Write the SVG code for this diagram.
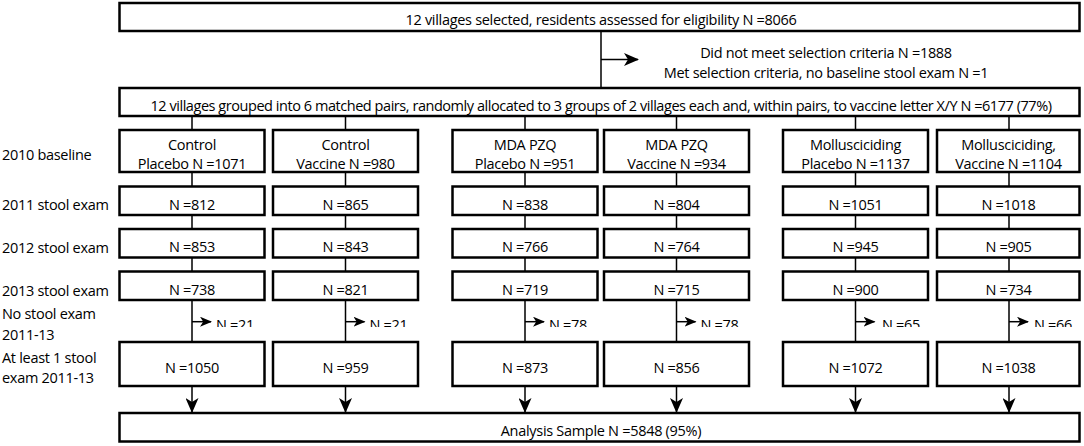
<svg xmlns="http://www.w3.org/2000/svg" width="1084" height="446" viewBox="0 0 1084 446">
<style>
text{font-family:"Open Sans","DejaVu Sans",sans-serif;font-size:14.5px;letter-spacing:-0.3px;fill:#000}
.c{text-anchor:middle}
.box{fill:#fff;stroke:#000;stroke-width:2.5}
.ln{fill:none;stroke:#000;stroke-width:1.5}
</style>
<defs>
<marker id="ah" markerUnits="userSpaceOnUse" viewBox="0 0 15 13" markerWidth="15" markerHeight="13" refX="14" refY="6.5" orient="auto">
<path d="M0,0 L15,6.5 L0,13 L4,6.5 Z" fill="#000"/>
</marker>
<marker id="as" markerUnits="userSpaceOnUse" viewBox="0 0 12 10" markerWidth="12" markerHeight="10" refX="11" refY="5" orient="auto">
<path d="M0,0 L12,5 L0,10 L3.2,5 Z" fill="#000"/>
</marker>
<clipPath id="clipN"><rect x="0" y="300" width="1084" height="27"/></clipPath>
</defs>

<g id="row-labels">
<text x="2" y="160">2010 baseline</text>
<text x="2" y="210">2011 stool exam</text>
<text x="2" y="252.5">2012 stool exam</text>
<text x="2" y="296">2013 stool exam</text>
<text x="2" y="319">No stool exam</text>
<text x="2" y="340">2011-13</text>
<text x="2" y="363">At least 1 stool</text>
<text x="2" y="383">exam 2011-13</text>
</g>

<g id="connectors">
<line class="ln" x1="601" y1="31" x2="601" y2="88"/>
<line class="ln" x1="601" y1="59.5" x2="638" y2="59.5" marker-end="url(#ah)"/>
<path class="ln" d="M192,116V130M192,172V186.5M192,215V229M192,257.5V271.5M345.5,116V130M345.5,172V186.5M345.5,215V229M345.5,257.5V271.5M525,116V130M525,172V186.5M525,215V229M525,257.5V271.5M676.5,116V130M676.5,172V186.5M676.5,215V229M676.5,257.5V271.5M855.5,116V130M855.5,172V186.5M855.5,215V229M855.5,257.5V271.5M1009,116V130M1009,172V186.5M1009,215V229M1009,257.5V271.5"/>
<path class="ln" d="M192,300V342M345.5,300V342M525,300V342M676.5,300V342M855.5,300V342M1009,300V342"/>
<line class="ln" x1="192" y1="321.7" x2="211" y2="321.7" marker-end="url(#as)"/>
<line class="ln" x1="345.5" y1="321.7" x2="364.5" y2="321.7" marker-end="url(#as)"/>
<line class="ln" x1="525" y1="321.7" x2="544" y2="321.7" marker-end="url(#as)"/>
<line class="ln" x1="676.5" y1="321.7" x2="695.5" y2="321.7" marker-end="url(#as)"/>
<line class="ln" x1="855.5" y1="321.7" x2="874.5" y2="321.7" marker-end="url(#as)"/>
<line class="ln" x1="1009" y1="321.7" x2="1028" y2="321.7" marker-end="url(#as)"/>
<line class="ln" x1="192" y1="386" x2="192" y2="412" marker-end="url(#ah)"/>
<line class="ln" x1="345.5" y1="386" x2="345.5" y2="412" marker-end="url(#ah)"/>
<line class="ln" x1="525" y1="386" x2="525" y2="412" marker-end="url(#ah)"/>
<line class="ln" x1="676.5" y1="386" x2="676.5" y2="412" marker-end="url(#ah)"/>
<line class="ln" x1="855.5" y1="386" x2="855.5" y2="412" marker-end="url(#ah)"/>
<line class="ln" x1="1009" y1="386" x2="1009" y2="412" marker-end="url(#ah)"/>
<g clip-path="url(#clipN)">
<text x="216" y="329.5">N =21</text>
<text x="369.5" y="329.5">N =21</text>
<text x="549" y="329.5">N =78</text>
<text x="700.5" y="329.5">N =78</text>
<text x="882" y="329.5">N =65</text>
<text x="1034" y="329.5">N =66</text>
</g>
</g>

<g id="n-assessed">
<rect class="box" x="119.5" y="3" width="960" height="28"/>
<text class="c" x="601" y="25">12 villages selected, residents assessed for eligibility N =8066</text>
</g>
<g id="n-excluded">
<text class="c" x="826" y="58">Did not meet selection criteria N =1888</text>
<text class="c" x="826" y="77.5">Met selection criteria, no baseline stool exam N =1</text>
</g>
<g id="n-allocated">
<rect class="box" x="119.5" y="88" width="960" height="28"/>
<text class="c" x="601" y="110.5" style="letter-spacing:-0.45px">12 villages grouped into 6 matched pairs, randomly allocated to 3 groups of 2 villages each and, within pairs, to vaccine letter X/Y N =6177 (77%)</text>
</g>

<g id="col1">
<rect class="box" x="119.5" y="130" width="145" height="42"/>
<text class="c" x="192" y="150">Control</text>
<text class="c" x="192" y="169">Placebo N =1071</text>
<rect class="box" x="119.5" y="186.5" width="145" height="28.5"/>
<text class="c" x="192" y="209.5">N =812</text>
<rect class="box" x="119.5" y="229" width="145" height="28.5"/>
<text class="c" x="192" y="252">N =853</text>
<rect class="box" x="119.5" y="271.5" width="145" height="28.5"/>
<text class="c" x="192" y="295">N =738</text>
<rect class="box" x="119.5" y="342" width="145" height="44"/>
<text class="c" x="192" y="373">N =1050</text>
</g>
<g id="col2">
<rect class="box" x="273" y="130" width="145" height="42"/>
<text class="c" x="345.5" y="150">Control</text>
<text class="c" x="345.5" y="169">Vaccine N =980</text>
<rect class="box" x="273" y="186.5" width="145" height="28.5"/>
<text class="c" x="345.5" y="209.5">N =865</text>
<rect class="box" x="273" y="229" width="145" height="28.5"/>
<text class="c" x="345.5" y="252">N =843</text>
<rect class="box" x="273" y="271.5" width="145" height="28.5"/>
<text class="c" x="345.5" y="295">N =821</text>
<rect class="box" x="273" y="342" width="145" height="44"/>
<text class="c" x="345.5" y="373">N =959</text>
</g>
<g id="col3">
<rect class="box" x="452.5" y="130" width="145" height="42"/>
<text class="c" x="525" y="150">MDA PZQ</text>
<text class="c" x="525" y="169">Placebo N =951</text>
<rect class="box" x="452.5" y="186.5" width="145" height="28.5"/>
<text class="c" x="525" y="209.5">N =838</text>
<rect class="box" x="452.5" y="229" width="145" height="28.5"/>
<text class="c" x="525" y="252">N =766</text>
<rect class="box" x="452.5" y="271.5" width="145" height="28.5"/>
<text class="c" x="525" y="295">N =719</text>
<rect class="box" x="452.5" y="342" width="145" height="44"/>
<text class="c" x="525" y="373">N =873</text>
</g>
<g id="col4">
<rect class="box" x="604" y="130" width="145" height="42"/>
<text class="c" x="676.5" y="150">MDA PZQ</text>
<text class="c" x="676.5" y="169">Vaccine N =934</text>
<rect class="box" x="604" y="186.5" width="145" height="28.5"/>
<text class="c" x="676.5" y="209.5">N =804</text>
<rect class="box" x="604" y="229" width="145" height="28.5"/>
<text class="c" x="676.5" y="252">N =764</text>
<rect class="box" x="604" y="271.5" width="145" height="28.5"/>
<text class="c" x="676.5" y="295">N =715</text>
<rect class="box" x="604" y="342" width="145" height="44"/>
<text class="c" x="676.5" y="373">N =856</text>
</g>
<g id="col5">
<rect class="box" x="783" y="130" width="145" height="42"/>
<text class="c" x="855.5" y="150">Mollusciciding</text>
<text class="c" x="855.5" y="169">Placebo N =1137</text>
<rect class="box" x="783" y="186.5" width="145" height="28.5"/>
<text class="c" x="855.5" y="209.5">N =1051</text>
<rect class="box" x="783" y="229" width="145" height="28.5"/>
<text class="c" x="855.5" y="252">N =945</text>
<rect class="box" x="783" y="271.5" width="145" height="28.5"/>
<text class="c" x="855.5" y="295">N =900</text>
<rect class="box" x="783" y="342" width="145" height="44"/>
<text class="c" x="855.5" y="373">N =1072</text>
</g>
<g id="col6">
<rect class="box" x="937" y="130" width="142.5" height="42"/>
<text class="c" x="1008.5" y="150">Mollusciciding,</text>
<text class="c" x="1008.5" y="169">Vaccine N =1104</text>
<rect class="box" x="937" y="186.5" width="142.5" height="28.5"/>
<text class="c" x="1008.5" y="209.5">N =1018</text>
<rect class="box" x="937" y="229" width="142.5" height="28.5"/>
<text class="c" x="1008.5" y="252">N =905</text>
<rect class="box" x="937" y="271.5" width="142.5" height="28.5"/>
<text class="c" x="1008.5" y="295">N =734</text>
<rect class="box" x="937" y="342" width="142.5" height="44"/>
<text class="c" x="1008.5" y="373">N =1038</text>
</g>

<g id="analysis">
<rect class="box" x="119.5" y="413" width="960" height="28.5"/>
<text class="c" x="601" y="436">Analysis Sample N =5848 (95%)</text>
</g>
</svg>
